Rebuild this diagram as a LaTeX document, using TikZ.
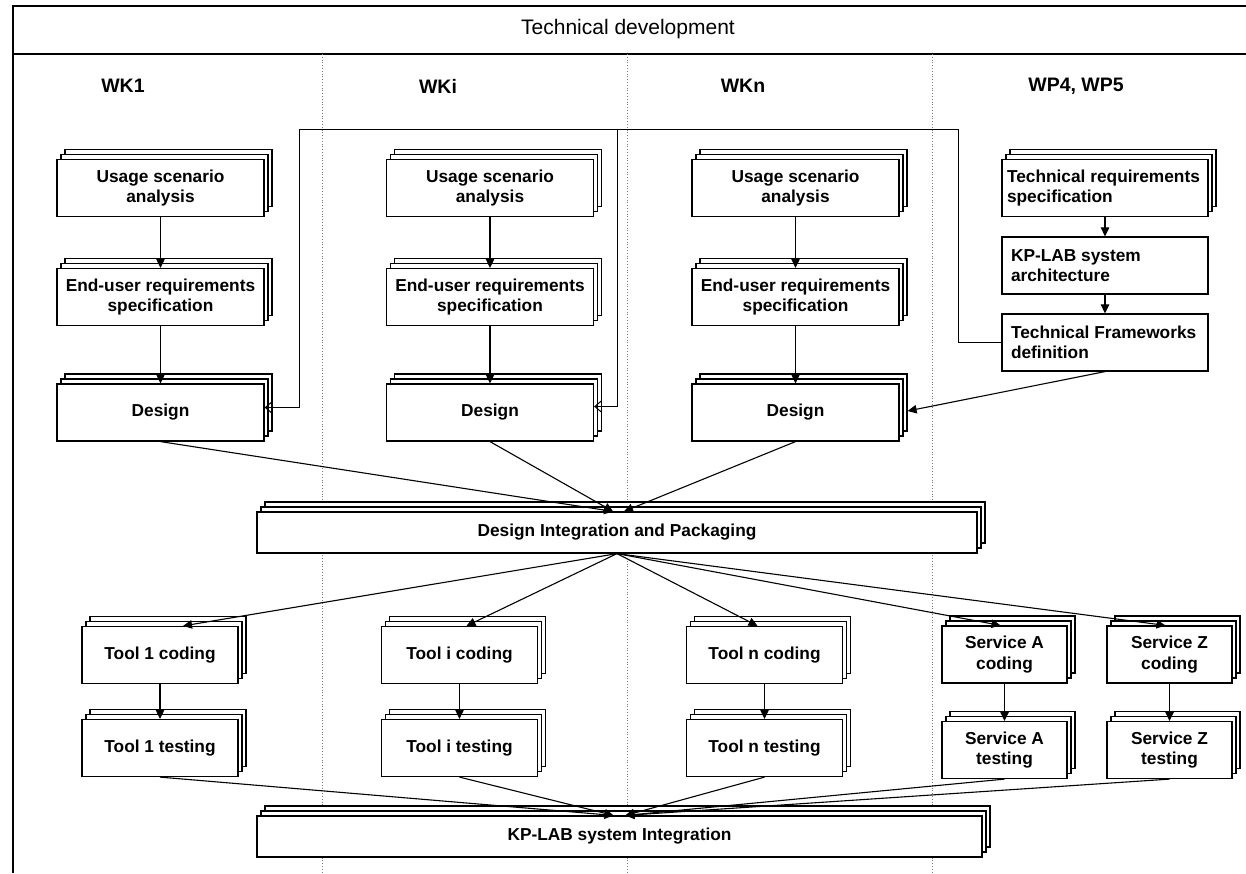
\documentclass[tikz,border=0pt]{standalone}
\usepackage{fontspec}
\setmainfont{Liberation Sans}
\usepackage{tikz}
\usetikzlibrary{arrows.meta, shadows, positioning}
\definecolor{Ink}{HTML}{000000}
\definecolor{Guide}{HTML}{7A7A7A}
\newcommand{\cardfont}{\bfseries\fontsize{17.3}{20.5}\selectfont}
\newcommand{\lanefont}{\bfseries\fontsize{19.5}{22}\selectfont}
\newcommand{\bannerfont}{\fontsize{21}{24}\selectfont}
\tikzset{
  frame/.style={line width=2.2pt, color=Ink},
  sep/.style={line width=1.5pt, color=Ink},
  lane/.style={dotted, line width=0.8pt, color=Guide},
  card/.style={draw=Ink, fill=white, line width=1.2pt, font=\cardfont, align=center, inner sep=2pt},
  stack/.style={card,
    copy shadow={shadow xshift=8pt, shadow yshift=10pt, fill=white, draw=Ink, line width=1.2pt},
    copy shadow={shadow xshift=4pt, shadow yshift=5pt, fill=white, draw=Ink, line width=1.2pt}},
  colbox/.style={stack, minimum width=207pt, minimum height=57pt},
  toolbox/.style={stack, minimum width=156pt, minimum height=57pt},
  servbox/.style={stack, minimum width=125pt, minimum height=57pt},
  widebox/.style={stack, minimum height=41pt},
  wpbox/.style={card, align=flush left, text width=188pt, inner xsep=9pt, minimum height=57pt},
  flow/.style={-{Triangle[length=9pt,width=8.5pt]}, line width=1.1pt, color=Ink},
  feed/.style={-{Straight Barb[length=7pt,width=12pt]}, line width=1pt, color=Ink},
  lanehead/.style={font=\lanefont},
}

\begin{document}
\begin{tikzpicture}[x=1pt, y=-1pt]
  \useasboundingbox (0,0) rectangle (1246,873);

  % Frame and lanes
  \draw[frame] (13,873) -- (13,6) -- (1246,6);
  \draw[sep] (13,54) -- (1246,54);
  \draw[lane] (322,54) -- (322,873);
  \draw[lane] (627,54) -- (627,873);
  \draw[lane] (932,54) -- (932,873);
  \node[font=\bannerfont] (title) at (628,29) {Technical development};

  \node[lanehead] (hw1) at (123,86) {WK1};
  \node[lanehead] (hwi) at (438,86) {WKi};
  \node[lanehead] (hwn) at (743,86) {WKn};
  \node[lanehead] (hwp) at (1076,86) {WP4, WP5};

  % WK1
  \node[colbox] (us1) at (160.5,188) {Usage scenario\\analysis};
  \node[colbox] (eu1) at (160.5,297) {End-user requirements\\specification};
  \node[colbox] (d1) at (160.5,412.5) {Design};

  % WKi
  \node[colbox] (usi) at (490,188) {Usage scenario\\analysis};
  \node[colbox] (eui) at (490,297) {End-user requirements\\specification};
  \node[colbox] (di) at (490,412.5) {Design};

  % WKn
  \node[colbox] (usn) at (795.5,188) {Usage scenario\\analysis};
  \node[colbox] (eun) at (795.5,297) {End-user requirements\\specification};
  \node[colbox] (dn) at (795.5,412.5) {Design};

  % WP4, WP5
  \node[stack, wpbox, text width=196pt, inner xsep=5pt] (tr) at (1105,188) {Technical requirements\\specification};
  \node[wpbox] (arch) at (1105,265.5) {KP-LAB system\\architecture};
  \node[wpbox] (tf) at (1105,342.5) {Technical Frameworks\\definition};

  % Integration
  \node[widebox, minimum width=720pt] (dip) at (617,532.5) {Design Integration and Packaging};

  % Coding and testing
  \node[toolbox] (t1c) at (160,655) {Tool 1 coding};
  \node[toolbox] (t1t) at (160,748) {Tool 1 testing};
  \node[toolbox] (tic) at (459.5,655) {Tool i coding};
  \node[toolbox] (tit) at (459.5,748) {Tool i testing};
  \node[toolbox] (tnc) at (764.5,655) {Tool n coding};
  \node[toolbox] (tnt) at (764.5,748) {Tool n testing};
  \node[servbox] (sac) at (1004.5,654.5) {Service A\\coding};
  \node[servbox] (sat) at (1004.5,750) {Service A\\testing};
  \node[servbox] (szc) at (1169.5,654.5) {Service Z\\coding};
  \node[servbox] (szt) at (1169.5,750) {Service Z\\testing};

  \node[widebox, minimum width=725pt] (kpi) at (619.5,836.5) {KP-LAB system Integration};

  % Column flows
  \draw[flow] (us1) -- (eu1);
  \draw[flow] (eu1) -- (d1);
  \draw[flow] (usi) -- (eui);
  \draw[flow] (eui) -- (di);
  \draw[flow] (usn) -- (eun);
  \draw[flow] (eun) -- (dn);
  \draw[flow] (tr) -- (arch);
  \draw[flow] (arch) -- (tf);

  % Frameworks feed back to the designs
  \coordinate (busR) at (958,129);
  \coordinate (busL) at (299,129);
  \coordinate (busM) at (617,129);
  \draw[feed] (tf.west) -| (busR) -- (busL) |- ([yshift=5pt]d1.east);
  \draw[feed] (busM) |- ([yshift=6pt]di.east);
  \draw[flow] (tf.south) -- ([xshift=8pt, yshift=1.5pt]dn.east);

  % Designs into integration
  \draw[flow] (d1.south) -- ([xshift=-4pt]dip.north);
  \draw[flow] (di.south) -- ([xshift=-4pt]dip.north);
  \draw[flow] (dn.south) -- ([xshift=7pt]dip.north);

  % Integration out to coding
  \draw[flow] (dip.south) -- ([xshift=23pt]t1c.north);
  \draw[flow] (dip.south) -- ([xshift=7pt]tic.north);
  \draw[flow] (dip.south) -- ([xshift=-7pt]tnc.north);
  \draw[flow] (dip.south) -- ([xshift=-4pt]sac.north);
  \draw[flow] (dip.south) -- ([xshift=-4pt]szc.north);

  \draw[flow] (t1c) -- (t1t);
  \draw[flow] (tic) -- (tit);
  \draw[flow] (tnc) -- (tnt);
  \draw[flow] (sac) -- (sat);
  \draw[flow] (szc) -- (szt);

  % Testing into system integration
  \draw[flow] (t1t.south) -- ([xshift=-6pt]kpi.north);
  \draw[flow] (tit.south) -- ([xshift=-6pt]kpi.north);
  \draw[flow] (tnt.south) -- ([xshift=6pt]kpi.north);
  \draw[flow] (sat.south) -- ([xshift=6pt]kpi.north);
  \draw[flow] (szt.south) -- ([xshift=6pt]kpi.north);
\end{tikzpicture}
\end{document}
